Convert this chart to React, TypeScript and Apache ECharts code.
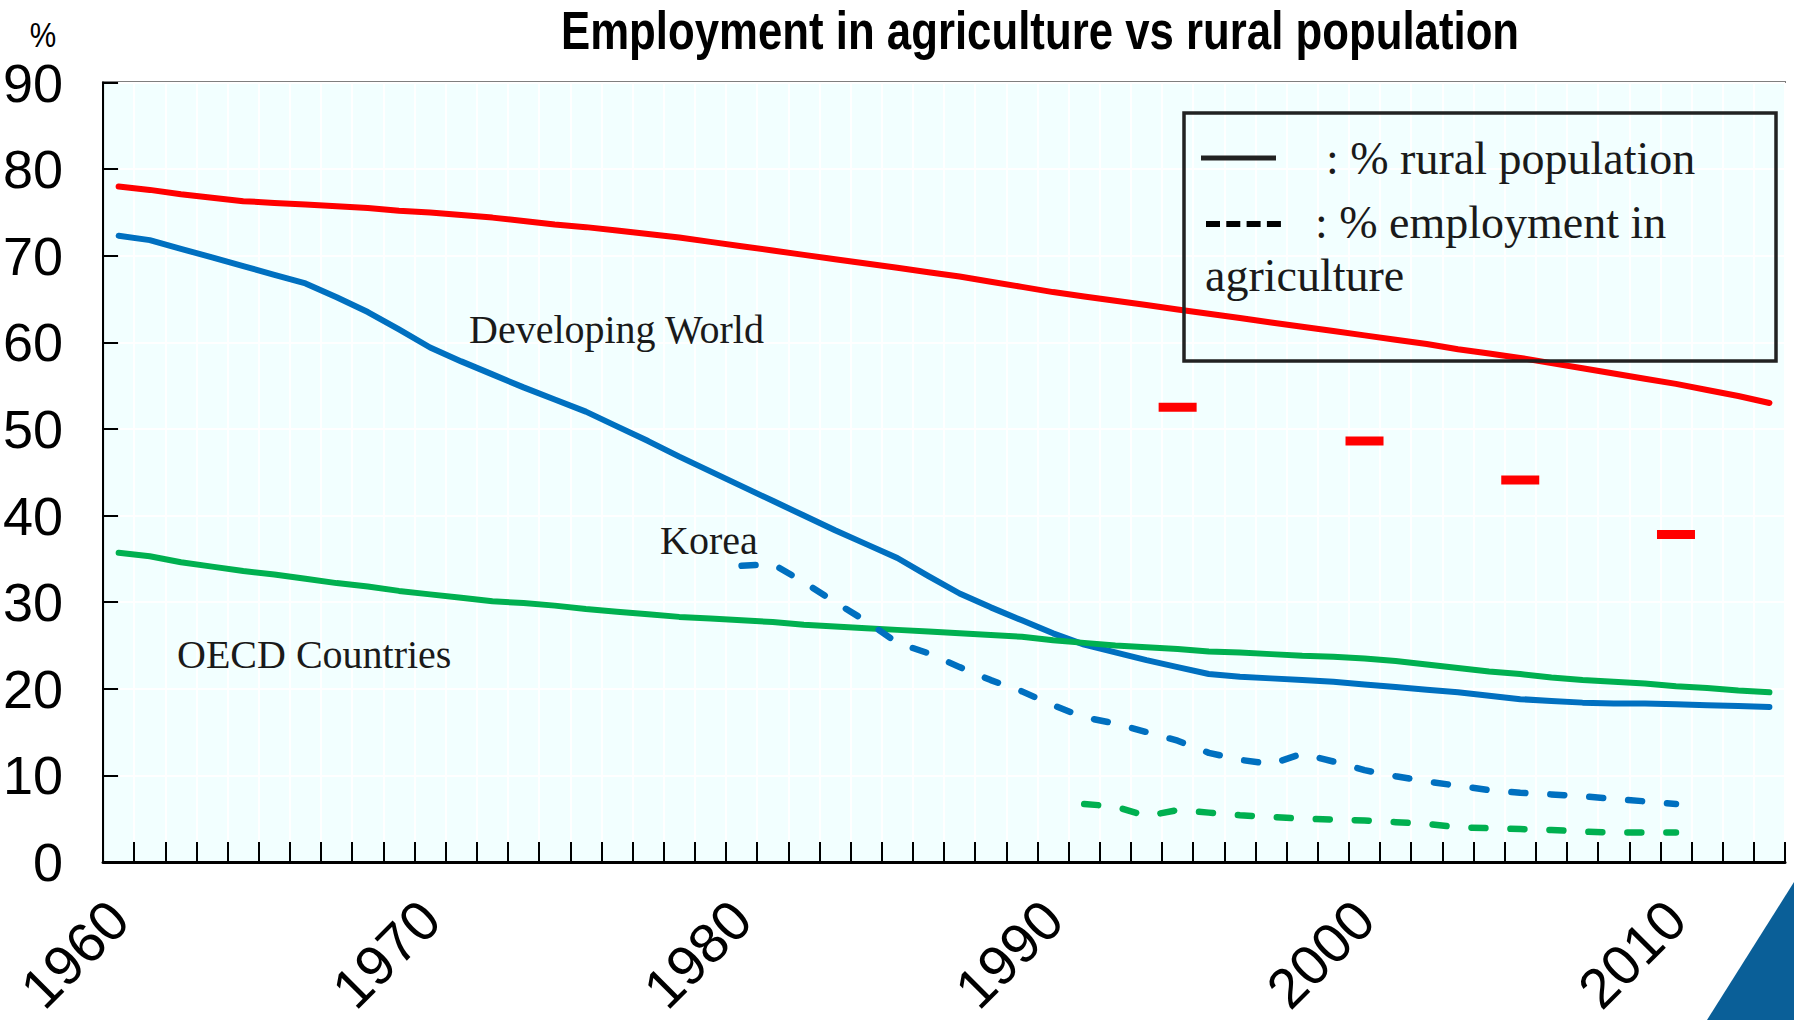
import React, { useEffect, useRef } from "react";
import * as echarts from "echarts";

const years: string[] = [
  "1960","1961","1962","1963","1964","1965","1966","1967","1968","1969",
  "1970","1971","1972","1973","1974","1975","1976","1977","1978","1979",
  "1980","1981","1982","1983","1984","1985","1986","1987","1988","1989",
  "1990","1991","1992","1993","1994","1995","1996","1997","1998","1999",
  "2000","2001","2002","2003","2004","2005","2006","2007","2008","2009",
  "2010","2011","2012","2013",
];

// % rural population, 1960-2013
const developingRural: number[] = [
  78.0, 77.6, 77.1, 76.7, 76.3, 76.1, 75.9, 75.7, 75.5, 75.2,
  75.0, 74.7, 74.4, 74.0, 73.6, 73.3, 72.9, 72.5, 72.1, 71.6,
  71.1, 70.6, 70.1, 69.6, 69.1, 68.6, 68.1, 67.6, 67.0, 66.4,
  65.8, 65.3, 64.8, 64.3, 63.8, 63.3, 62.8, 62.3, 61.8, 61.3,
  60.8, 60.3, 59.8, 59.2, 58.7, 58.2, 57.6, 57.0, 56.4, 55.8,
  55.2, 54.5, 53.8, 53.0,
];
const koreaRural: number[] = [
  72.3, 71.8, 70.8, 69.8, 68.8, 67.8, 66.8, 65.2, 63.5, 61.5,
  59.4, 57.8, 56.3, 54.8, 53.4, 52.0, 50.3, 48.6, 46.8, 45.1,
  43.4, 41.7, 40.0, 38.3, 36.7, 35.1, 33.0, 31.0, 29.4, 27.9,
  26.4, 25.1, 24.2, 23.3, 22.5, 21.7, 21.4, 21.2, 21.0, 20.8,
  20.5, 20.2, 19.9, 19.6, 19.2, 18.8, 18.6, 18.4, 18.3, 18.3,
  18.2, 18.1, 18.0, 17.9,
];
const oecdRural: number[] = [
  35.7, 35.3, 34.6, 34.1, 33.6, 33.2, 32.7, 32.2, 31.8, 31.3,
  30.9, 30.5, 30.1, 29.9, 29.6, 29.2, 28.9, 28.6, 28.3, 28.1,
  27.9, 27.7, 27.4, 27.2, 27.0, 26.8, 26.6, 26.4, 26.2, 26.0,
  25.6, 25.3, 25.0, 24.8, 24.6, 24.3, 24.2, 24.0, 23.8, 23.7,
  23.5, 23.2, 22.8, 22.4, 22.0, 21.7, 21.3, 21.0, 20.8, 20.6,
  20.3, 20.1, 19.8, 19.6,
];

// % employment in agriculture
const koreaEmpStart = 1980;
const koreaEmp: number[] = [
  34.2, 34.4, 32.3, 30.0, 27.8, 25.3, 24.1, 22.5, 21.0, 19.7,
  18.1, 16.7, 16.0, 15.0, 14.0, 12.6, 11.8, 11.3, 12.5, 11.6,
  10.6, 9.9, 9.3, 8.8, 8.3, 8.0, 7.8, 7.6, 7.3, 7.0,
  6.7,
];
const oecdEmpStart = 1991;
const oecdEmp: number[] = [
  6.7, 6.4, 5.3, 6.0, 5.7, 5.4, 5.2, 5.0, 4.9, 4.8,
  4.6, 4.4, 4.0, 3.9, 3.8, 3.7, 3.5, 3.4, 3.4, 3.4,
];
const developingEmpYears: string[] = ["1994", "2000", "2005", "2010"];
const developingEmp: number[] = [52.5, 48.6, 44.1, 37.8];

const yTicks = { min: 0, max: 90, interval: 10 };

const RED = "#FF0000";
const BLUE = "#0070C0";
const GREEN = "#00B050";
const NARROW = '"Liberation Sans Narrow", "Arial Narrow", "Liberation Sans", sans-serif';
const SERIF = '"Liberation Serif", "Times New Roman", serif';

function padSeries(start: number, values: number[]): (number | null)[] {
  return years.map((y) => {
    const i = Number(y) - start;
    return i >= 0 && i < values.length ? values[i] : null;
  });
}

export default function App() {
  const ref = useRef<HTMLDivElement>(null);
  useEffect(() => {
    if (!ref.current) return;
    const chart = echarts.init(ref.current, undefined, { renderer: "svg" });
    const solid = (name: string, color: string, data: (number | null)[]) => ({
      name,
      type: "line",
      data,
      symbol: "none",
      smooth: false,
      lineStyle: { color, width: 6, cap: "round", join: "round" },
      z: 3,
    });
    const dashed = (name: string, color: string, data: (number | null)[]) => ({
      name,
      type: "line",
      data,
      symbol: "none",
      smooth: false,
      connectNulls: false,
      lineStyle: { color, width: 6.5, type: [14, 25], cap: "round", join: "round" },
      z: 3,
    });
    const option: any = {
      animation: false,
      backgroundColor: "#ffffff",
      grid: {
        left: 95,
        right: 9,
        top: 82.5,
        bottom: 140,
        containLabel: false,
        show: true,
        backgroundColor: "#F2FFFF",
        borderColor: "#000",
        borderWidth: 2,
      },
      xAxis: {
        type: "category",
        data: years,
        boundaryGap: true,
        axisLine: { show: true, lineStyle: { color: "#000", width: 3 } },
        axisTick: {
          show: true,
          inside: true,
          interval: 0,
          length: 20,
          lineStyle: { color: "#000", width: 2 },
        },
        axisLabel: {
          interval: (_i: number, v: string) => Number(v) % 10 === 0,
          rotate: 45,
          margin: 48,
          fontFamily: NARROW,
          fontSize: 56,
          color: "#000",
        },
        splitLine: { show: true, interval: 0, lineStyle: { color: "#FFFFFF", width: 2 } },
      },
      yAxis: {
        type: "value",
        min: yTicks.min,
        max: yTicks.max,
        interval: yTicks.interval,
        axisLine: { show: true, lineStyle: { color: "#000", width: 2 } },
        axisTick: { show: true, inside: true, length: 15, lineStyle: { color: "#000", width: 2 } },
        axisLabel: { margin: 40, fontFamily: NARROW, fontSize: 54, color: "#000" },
        splitLine: { show: true, lineStyle: { color: "#FFFFFF", width: 2 } },
      },
      series: [
        solid("Developing World rural", RED, developingRural),
        solid("Korea rural", BLUE, koreaRural),
        solid("OECD rural", GREEN, oecdRural),
        dashed("Korea employment", BLUE, padSeries(koreaEmpStart, koreaEmp)),
        dashed("OECD employment", GREEN, padSeries(oecdEmpStart, oecdEmp)),
        {
          name: "Developing World employment",
          type: "scatter",
          data: developingEmpYears.map((y, i) => [y, developingEmp[i]]),
          symbol: "rect",
          symbolSize: [38, 9],
          itemStyle: { color: RED, opacity: 1 },
          z: 4,
        },
      ],
      graphic: [
        {
          type: "text",
          x: 561,
          y: 30,
          scaleX: 0.826,
          style: {
            text: "Employment in agriculture vs rural population",
            fontFamily: NARROW,
            fontWeight: "bold",
            fontSize: 53,
            fill: "#000",
            align: "left",
            verticalAlign: "middle",
          },
        },
        {
          type: "text",
          x: 43,
          y: 35,
          scaleX: 0.85,
          style: { text: "%", fontFamily: NARROW, fontSize: 35, fill: "#000", align: "center", verticalAlign: "middle" },
        },
        {
          type: "text",
          x: 469,
          y: 329,
          style: { text: "Developing World", fontFamily: SERIF, fontSize: 40, fill: "#1a1a1a", align: "left", verticalAlign: "middle" },
          z: 10,
        },
        {
          type: "text",
          x: 660,
          y: 540,
          style: { text: "Korea", fontFamily: SERIF, fontSize: 40, fill: "#1a1a1a", align: "left", verticalAlign: "middle" },
          z: 10,
        },
        {
          type: "text",
          x: 177,
          y: 654,
          style: { text: "OECD Countries", fontFamily: SERIF, fontSize: 40, fill: "#1a1a1a", align: "left", verticalAlign: "middle" },
          z: 10,
        },
        {
          type: "rect",
          shape: { x: 1184, y: 113, width: 592, height: 248 },
          style: { fill: "none", stroke: "#222", lineWidth: 3.5 },
          z: 10,
        },
        {
          type: "line",
          shape: { x1: 1201, y1: 158, x2: 1276, y2: 158 },
          style: { stroke: "#222", lineWidth: 5 },
          z: 10,
        },
        {
          type: "line",
          shape: { x1: 1206, y1: 224, x2: 1281, y2: 224 },
          style: { stroke: "#000", lineWidth: 6, lineDash: [14, 6.3] },
          z: 10,
        },
        {
          type: "text",
          x: 1326,
          y: 158,
          style: { text: ": % rural population", fontFamily: SERIF, fontSize: 46, fill: "#1a1a1a", align: "left", verticalAlign: "middle" },
          z: 10,
        },
        {
          type: "text",
          x: 1315,
          y: 222,
          style: { text: ": % employment in", fontFamily: SERIF, fontSize: 46, fill: "#1a1a1a", align: "left", verticalAlign: "middle" },
          z: 10,
        },
        {
          type: "text",
          x: 1205,
          y: 275,
          style: { text: "agriculture", fontFamily: SERIF, fontSize: 46, fill: "#1a1a1a", align: "left", verticalAlign: "middle" },
          z: 10,
        },
        {
          type: "polygon",
          shape: { points: [[1794, 882], [1707, 1020], [1794, 1020]] },
          style: { fill: "#0A5F98" },
          z: 10,
        },
      ],
    };
    chart.setOption(option);
    return () => chart.dispose();
  }, []);
  return (
    <div
      ref={ref}
      style={{ position: "fixed", left: 0, top: 0, width: 1794, height: 1020, background: "#fff" }}
    />
  );
}
